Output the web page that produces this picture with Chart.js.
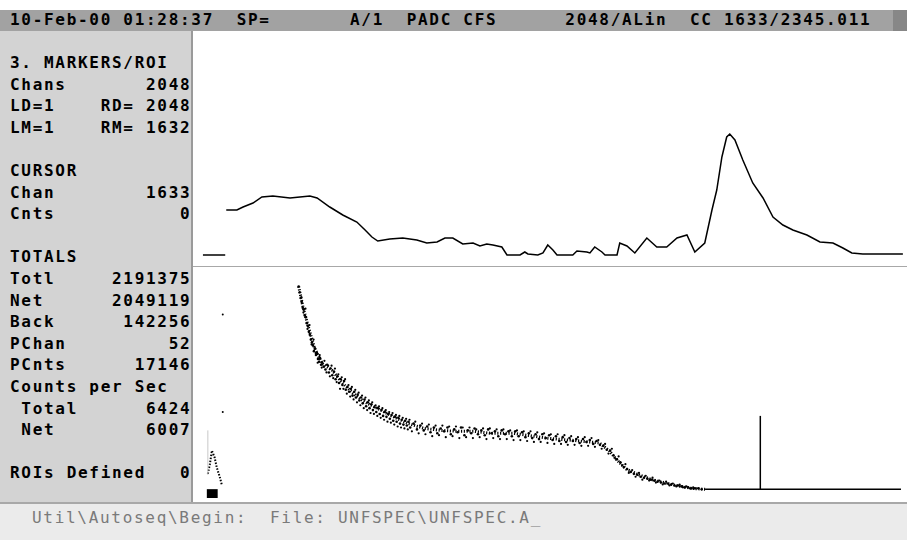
<!DOCTYPE html>
<html>
<head>
<meta charset="utf-8">
<script src="https://cdn.jsdelivr.net/npm/chart.js@4"></script>
<style>
  html, body { margin: 0; padding: 0; background: #fff; }
  body { width: 907px; height: 540px; position: relative; overflow: hidden; }
  .txt {
    position: absolute; margin: 0; white-space: pre;
    font-family: "DejaVu Sans Mono", monospace; font-size: 16px;
    letter-spacing: 1.7px; line-height: 21.6px;
  }
  #topbar { position: absolute; left: 0; top: 10px; width: 907px; height: 21px; background: #a2a2a2; }
  #topbar .blk { position: absolute; right: 0; top: 0; width: 14px; height: 21px; background: #878787; }
  #panel { position: absolute; left: 0; top: 31px; width: 191px; height: 471px; background: #d3d3d3; border-right: 2px solid #9a9a9a; }
  #divider { position: absolute; left: 193px; top: 266px; width: 714px; height: 1px; background: #a8a8a8; }
  #bottombar { position: absolute; left: 0; top: 502px; width: 907px; height: 38px; background: #ebebeb; border-top: 2px solid #a8a8a8; }
  canvas { position: absolute; }
</style>
</head>
<body>
<div id="topbar"><div class="blk"></div></div>
<pre class="txt" style="left:10px; top:9px; font-weight:bold; color:#000">10-Feb-00 01:28:37  SP=       A/1  PADC CFS      2048/ALin  CC 1633/2345.011</pre>
<div id="panel"></div>
<pre class="txt" style="left:10px; top:52px; font-weight:bold; color:#000">3. MARKERS/ROI
Chans       2048
LD=1    RD= 2048
LM=1    RM= 1632

CURSOR
Chan        1633
Cnts           0

TOTALS
Totl     2191375
Net      2049119
Back      142256
PChan         52
PCnts      17146
Counts per Sec
 Total      6424
 Net        6007

ROIs Defined   0</pre>
<canvas id="topChart" width="714" height="234" style="left:193px; top:32px"></canvas>
<div id="divider"></div>
<canvas id="botChart" width="714" height="235" style="left:193px; top:267px"></canvas>
<div id="bottombar"></div>
<pre class="txt" style="left:32px; top:507px; color:#7a7a7a">Util\Autoseq\Begin:  File: UNFSPEC\UNFSPEC.A_</pre>

<script>
// channel axis shared by both windows
const chanMin = -29;
const chanMax = 2054;
const cursorChan = 1633;

// upper window (linear)
const topStartChan = [0, 65];
const topStartCnts = [0, 0];
const topChan = [68, 99, 117, 146, 172, 204, 254, 283, 312, 333, 370, 408, 449, 473, 493, 510, 545, 583, 624, 653,
  683, 706, 729, 758, 788, 808, 828, 846, 872, 887, 925, 939, 948, 977, 992, 1006, 1021, 1033, 1079, 1091,
  1120, 1129, 1143, 1164, 1173, 1208, 1216, 1237, 1260, 1295, 1324, 1353, 1383, 1412, 1435, 1464, 1485, 1499, 1514, 1528,
  1537, 1552, 1575, 1604, 1634, 1663, 1692, 1721, 1762, 1800, 1838, 1867, 1893, 1925, 1975, 2042];
const topCnts = [45, 45, 48, 52, 58, 59, 57, 58, 59, 57, 48, 40, 33, 25, 18, 14, 16, 17, 15, 12,
  13, 17, 17, 11, 12, 9, 11, 10, 8, 0, 0, 3, 1, 0, 2, 10, 5, 0, 0, 4,
  3, 2, 8, 3, 0, 0, 12, 9, 2, 17, 8, 8, 17, 20, 3, 12, 45, 65, 98, 118,
  121, 115, 95, 72, 57, 38, 30, 25, 20, 13, 12, 7, 2, 1, 1, 1];

// lower window (expanded)
const peakChan = [3, 9, 15, 23, 29, 38, 44];
const peakCnts = [16, 26, 40, 33, 23, 13, 5];
const strayChan = [47, 47];
const strayCnts = [181, 80];
const bandChan = [271, 274, 277, 280, 283, 286, 289, 292, 295, 298, 301, 304, 307, 310, 313, 316, 319, 322, 325, 328,
  331, 334, 337, 340, 345, 350, 355, 360, 365, 370, 375, 380, 385, 390, 395, 400, 405, 410, 415, 420,
  425, 430, 435, 440, 445, 450, 455, 460, 465, 470, 475, 480, 485, 490, 495, 500, 505, 510, 515, 520,
  525, 530, 535, 540, 545, 550, 555, 560, 565, 570, 575, 580, 585, 590, 595, 600, 610, 620, 630, 640,
  650, 660, 670, 680, 690, 700, 710, 720, 730, 740, 750, 760, 770, 780, 790, 800, 810, 820, 830, 840,
  850, 860, 870, 880, 890, 900, 910, 920, 930, 940, 950, 960, 970, 980, 990, 1000, 1010, 1020, 1030, 1040,
  1050, 1060, 1070, 1080, 1090, 1100, 1110, 1120, 1130, 1140, 1150, 1160, 1170, 1180, 1190, 1200, 1210, 1220, 1230, 1240,
  1250, 1260, 1270, 1280, 1290, 1300, 1310, 1320, 1330, 1340, 1350, 1360, 1370, 1380, 1390, 1400, 1410, 1420, 1430, 1440,
  1450, 1460];
const bandCnts = [210, 204, 198, 194, 188, 186, 180, 178, 172, 169, 163, 160, 155, 152, 149, 143, 146, 139, 141, 135,
  132, 136, 129, 131, 127, 124, 129, 121, 125, 118, 122, 114, 117, 110, 114, 108, 112, 103, 106, 101,
  104, 97, 101, 95, 98, 92, 95, 89, 93, 86, 90, 84, 88, 82, 85, 80, 84, 78, 82, 76,
  80, 75, 78, 73, 77, 71, 75, 70, 74, 68, 72, 67, 71, 66, 70, 64, 68, 62, 66, 61,
  65, 59, 64, 58, 63, 60, 64, 57, 62, 59, 64, 56, 61, 58, 63, 57, 61, 56, 62, 58,
  60, 55, 61, 57, 60, 55, 60, 55, 59, 54, 58, 53, 57, 52, 57, 53, 56, 51, 55, 50,
  54, 49, 53, 50, 52, 48, 52, 49, 51, 47, 50, 46, 45, 41, 40, 35, 31, 28, 23, 21,
  18, 16, 15, 13, 12, 11, 10, 9, 8, 7, 6, 6, 5, 4, 4, 3, 2, 2, 1, 1,
  1, 0];
// second pass of scattered channel counts around the band
const spreadChan = [279, 285, 291, 297, 303, 309, 315, 321, 327, 333, 339, 347, 353, 358, 363, 368, 373, 378, 383, 388,
  393, 398, 403, 408, 413, 418, 423, 428, 433, 438, 443, 448, 453, 458, 463, 468, 473, 478, 483, 488,
  493, 498, 503, 508, 513, 518, 523, 528, 533, 538, 543, 548, 553, 558, 563, 568, 573, 578, 583, 588,
  593, 598, 605, 615, 625, 635, 645, 655, 665, 675, 685, 695, 705, 715, 725, 735, 745, 755, 765, 775,
  785, 795, 805, 815, 825, 835, 845, 855, 865, 875, 885, 895, 905, 915, 925, 935, 945, 955, 965, 975,
  985, 995, 1005, 1015, 1025, 1035, 1045, 1055, 1065, 1075, 1085, 1095, 1105, 1115, 1125, 1135, 1145, 1155, 1165, 1175,
  1185, 1195, 1205, 1215, 1225, 1235, 1245, 1255, 1265, 1275, 1285, 1295, 1305, 1315, 1325, 1335, 1345, 1355, 1365, 1375,
  1385, 1395, 1405, 1415, 1425, 1435];
const spreadCnts = [199, 183, 187, 166, 170, 150, 155, 141, 131, 139, 126, 133, 121, 128, 117, 128, 115, 125, 111, 119,
  104, 116, 104, 114, 99, 108, 96, 106, 93, 103, 90, 100, 87, 97, 84, 95, 82, 92, 79, 90,
  78, 87, 76, 86, 74, 84, 72, 82, 70, 80, 69, 79, 67, 77, 65, 76, 64, 74, 63, 73,
  62, 72, 60, 70, 58, 68, 57, 67, 55, 66, 56, 66, 54, 65, 55, 65, 53, 64, 54, 64,
  53, 62, 54, 63, 52, 63, 53, 62, 52, 62, 52, 61, 51, 61, 51, 60, 50, 60, 49, 59,
  49, 58, 48, 57, 47, 57, 47, 56, 46, 55, 46, 54, 45, 54, 45, 53, 44, 51, 42, 47,
  37, 42, 32, 34, 25, 26, 17, 20, 13, 17, 10, 14, 9, 12, 7, 9, 5, 8, 4, 6,
  3, 5, 2, 3, 1, 2];
const midChan = [271, 283, 298, 318, 341, 370, 400, 429, 467, 508, 545, 595, 642, 691, 741, 788, 837, 904, 1003, 1100,
  1158, 1187, 1208, 1237, 1275, 1313, 1371, 1429, 1470];
const midCnts = [210, 190, 170, 146, 130, 123, 110, 100, 90, 83, 76, 68, 63, 61, 60, 60, 58, 58, 53, 50,
  48, 40, 31, 21, 15, 10, 5, 1, 0];
const tailChan = [1470, 2048];
const tailCnts = [0, 0];

function pts (xs, ys) {
    return xs.map((x, i) => ({ x: x, y: ys[i] }));
}

function baseOptions (yMin, yMax) {
    return {
        responsive: false,
        animation: false,
        events: [],
        layout: { padding: 0 },
        plugins: { legend: { display: false }, tooltip: { enabled: false } },
        scales: {
            x: { type: 'linear', min: chanMin, max: chanMax, display: false },
            y: { type: 'linear', min: yMin, max: yMax, display: false }
        }
    };
}

const line = (data, width, extra) => Object.assign({
    data: data, showLine: true, borderColor: '#000', borderWidth: width,
    pointRadius: 0, tension: 0, fill: false
}, extra || {});

const dots = (data, r) => ({ data: data, pointRadius: r, backgroundColor: '#000', borderWidth: 0 });

new Chart(document.getElementById('topChart').getContext('2d'), {
    type: 'scatter',
    data: {
        datasets: [
            line(pts(topStartChan, topStartCnts), 1.5),
            line(pts(topChan, topCnts), 1.5)
        ]
    },
    options: baseOptions(-11, 223)
});

new Chart(document.getElementById('botChart').getContext('2d'), {
    type: 'scatter',
    data: {
        datasets: [
            // ROI block under the first channels
            line(pts([0, 32], [-4.5, -4.5]), 9, { borderCapStyle: 'butt' }),
            line(pts([3, 3], [15, 61]), 1, { borderColor: '#c8c8c8' }),
            line(pts(peakChan, peakCnts), 2, { borderDash: [1.5, 1.5] }),
            dots(pts(strayChan, strayCnts), 1),
            line(pts(midChan, midCnts), 3, { borderDash: [1.2, 1.6] }),
            dots(pts(bandChan, bandCnts), 1.3),
            dots(pts(spreadChan, spreadCnts), 1.1),
            line(pts(tailChan, tailCnts), 1.5),
            // cursor marker
            line(pts([cursorChan, cursorChan], [0, 76]), 1.5)
        ]
    },
    options: baseOptions(-9, 226)
});
</script>
</body>
</html>
